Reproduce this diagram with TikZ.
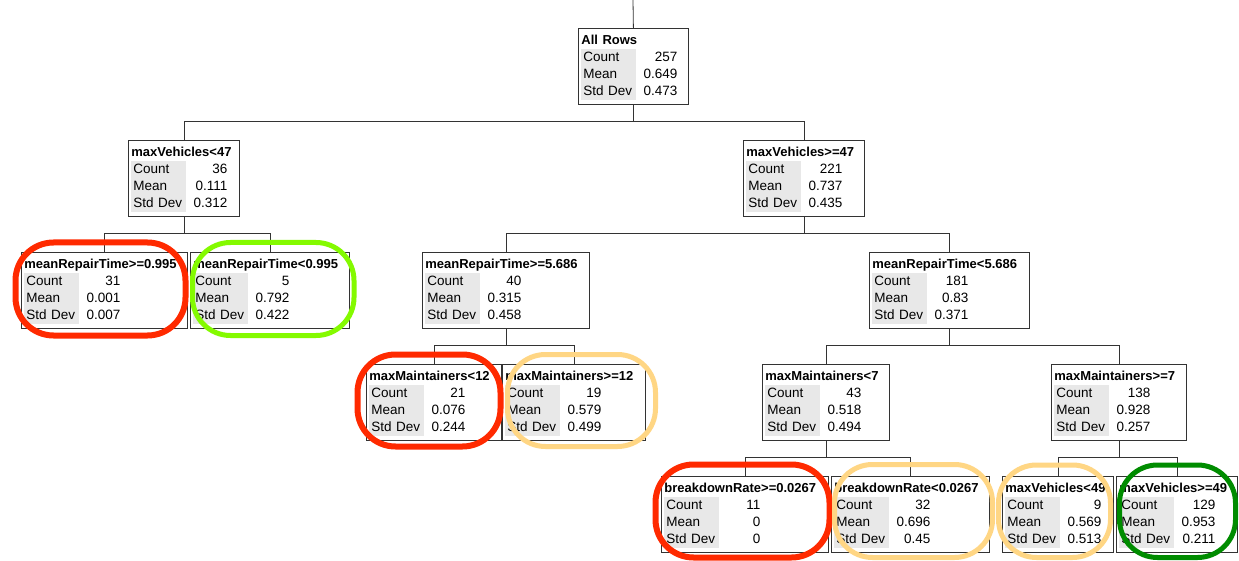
\documentclass[tikz,border=0pt]{standalone}
\usepackage{fontspec}
\setmainfont{Liberation Sans}

\definecolor{cellgrey}{RGB}{232,232,232}
\definecolor{ringred}{RGB}{255,42,0}
\definecolor{ringlime}{RGB}{132,250,0}
\definecolor{ringamber}{RGB}{255,214,132}
\definecolor{ringgreen}{RGB}{0,140,0}

\newcommand{\treefont}{\fontsize{13.5}{17}\selectfont}
% title and the three statistics of one split
\newcommand{\splitinfo}[4]{%
  \begin{tabular}{@{}l@{}}
    {\fontsize{13}{17}\selectfont\textbf{#1}}\\
    {\setlength{\fboxsep}{0pt}\colorbox{cellgrey}{\begin{tabular}{@{}p{55pt}@{}}\hspace{2pt}Count\\\hspace{2pt}Mean\\\hspace{2pt}Std Dev\end{tabular}}}%
    \begin{tabular}{@{}p{41pt}@{}}\hfill #2\\\hfill #3\\\hfill #4\end{tabular}
  \end{tabular}}

\tikzstyle{split} = [rectangle, draw=black!80, line width=.8pt, fill=white, anchor=north west,
    inner xsep=3pt, inner ysep=3pt, minimum height=76pt, align=left, font=\treefont]
\tikzstyle{link} = [draw=black!80, line width=.8pt]
\tikzstyle{branch} = [link, to path={(\tikztostart) -- ++(0,17) -| (\tikztotarget)}]
\tikzstyle{ring} = [line width=5pt, rounded corners=38pt]

\begin{document}
\begin{tikzpicture}[x=1pt, y=-1pt]

    \path[use as bounding box, fill=white] (0,0) rectangle (1239,561);

    % All Rows
    \node [split, text width=104pt] (root) at (578,28) {\splitinfo{All Rows}{257}{0.649}{0.473}};
    \coordinate (entry) at (633,0);

    % first split
    \node [split, text width=105pt] (mvlt47) at (128,140) {\splitinfo{maxVehicles<47}{36}{0.111}{0.312}};
    \node [split, text width=115pt] (mvge47) at (743,140) {\splitinfo{maxVehicles>=47}{221}{0.737}{0.435}};

    % second split
    \node [split, text width=160pt] (mrtge0995) at (21,252) {\splitinfo{meanRepairTime>=0.995}{31}{0.001}{0.007}};
    \node [split, text width=153pt] (mrtlt0995) at (190,252) {\splitinfo{meanRepairTime<0.995}{5}{0.792}{0.422}};
    \node [split, text width=161pt] (mrtge5686) at (422,252) {\splitinfo{meanRepairTime>=5.686}{40}{0.315}{0.458}};
    \node [split, text width=154pt] (mrtlt5686) at (869,252) {\splitinfo{meanRepairTime<5.686}{181}{0.83}{0.371}};

    % third split
    \node [split, text width=129pt] (mmlt12) at (366,364) {\splitinfo{maxMaintainers<12}{21}{0.076}{0.244}};
    \node [split, text width=137pt] (mmge12) at (502,364) {\splitinfo{maxMaintainers>=12}{19}{0.579}{0.499}};
    \node [split, text width=121pt] (mmlt7) at (762,364) {\splitinfo{maxMaintainers<7}{43}{0.518}{0.494}};
    \node [split, text width=129pt] (mmge7) at (1051,364) {\splitinfo{maxMaintainers>=7}{138}{0.928}{0.257}};

    % fourth split
    \node [split, text width=161pt] (brge) at (661,476) {\splitinfo{breakdownRate>=0.0267}{11}{0}{0}};
    \node [split, text width=152pt] (brlt) at (831,476) {\splitinfo{breakdownRate<0.0267}{32}{0.696}{0.45}};
    \node [split, text width=105pt] (mvlt49) at (1002,476) {\splitinfo{maxVehicles<49}{9}{0.569}{0.513}};
    \node [split, text width=115pt] (mvge49) at (1116,476) {\splitinfo{maxVehicles>=49}{129}{0.953}{0.211}};

    % Path
    \path[link] (entry) -- (root.north);
    \path[branch] (root.south) to (mvlt47.north);
    \path[branch] (root.south) to (mvge47.north);
    \path[branch] (mvlt47.south) to (mrtge0995.north);
    \path[branch] (mvlt47.south) to (mrtlt0995.north);
    \path[branch] (mvge47.south) to (mrtge5686.north);
    \path[branch] (mvge47.south) to (mrtlt5686.north);
    \path[branch] (mrtge5686.south) to (mmlt12.north);
    \path[branch] (mrtge5686.south) to (mmge12.north);
    \path[branch] (mrtlt5686.south) to (mmlt7.north);
    \path[branch] (mrtlt5686.south) to (mmge7.north);
    \path[branch] (mmlt7.south) to (brge.north);
    \path[branch] (mmlt7.south) to (brlt.north);
    \path[branch] (mmge7.south) to (mvlt49.north);
    \path[branch] (mmge7.south) to (mvge49.north);

    % rings
    \draw[ring, ringred, line width=6pt] (15.5,242.5) rectangle (185.5,335.5);
    \draw[ring, ringlime] (192.5,242.5) rectangle (354,335.5);
    \draw[ring, ringred, line width=6pt] (357.5,354.5) rectangle (500.5,446.5);
    \draw[ring, ringamber] (507.5,354.5) rectangle (655.5,446.5);
    \draw[ring, ringred, line width=6pt] (655.5,464.5) rectangle (829.5,557.5);
    \draw[ring, ringamber] (834.5,464.5) rectangle (992.5,557.5);
    \draw[ring, ringamber] (998.5,465) rectangle (1110.5,557.5);
    \draw[ring, ringgreen] (1119.5,465) rectangle (1235.5,557.5);

\end{tikzpicture}
\end{document}
